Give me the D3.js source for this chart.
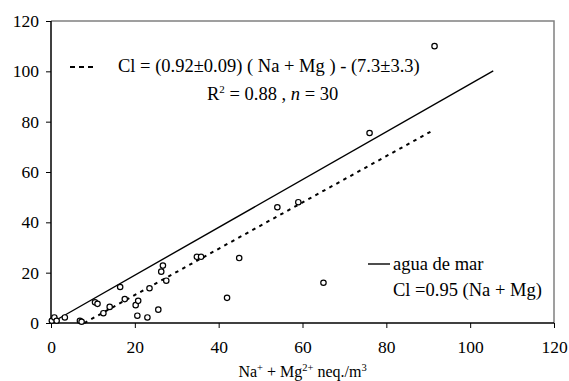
<!DOCTYPE html>
<html><head><meta charset="utf-8">
<script src="https://cdn.jsdelivr.net/npm/d3@7"></script>
<style>
body{margin:0;background:#fff;}
text{font-family:"Liberation Serif","Times New Roman",serif;fill:#000;}
</style></head>
<body><svg id="c" width="569" height="381"></svg>
<script>
// Data (Na+Mg vs Cl, neq/m3)
const naMg = [0.2,0.8,1.35,3.3,6.9,7.3,10.5,11.1,12.5,14.0,16.5,17.6,20.2,20.8,20.6,23.0,23.5,25.6,26.3,26.7,27.5,34.8,35.8,44.9,42.0,65.0,54.0,59.0,76.0,91.5];
const cl   = [0.9,2.2,0.9,2.2,0.9,0.5,8.2,7.6,3.9,6.4,14.3,9.5,7.1,8.8,2.9,2.2,13.8,5.3,20.4,22.8,16.8,26.3,26.3,25.8,10.0,16.0,46.0,48.0,75.5,110.0];
const xTicks = [0,20,40,60,80,100,120];
const yTicks = [0,20,40,60,80,100,120];
// fitted line: Cl = 0.92 (Na+Mg) - 7.3 ; seawater: Cl = 0.95 (Na+Mg)
const fitSlope = 0.92, fitIntercept = -7.3, fitXRange = [7.93, 91.2];
const seaSlope = 0.95, seaXRange = [0, 105.5];

const svg = d3.select("#c");
const x = d3.scaleLinear().domain([0,120]).range([51,554]);
const y = d3.scaleLinear().domain([0,120]).range([323,21]);

// frame (top & right, gray)
svg.append("path").attr("d",`M${x(0)},${y(120)}H${x(120)}V${y(0)}`)
  .attr("fill","none").attr("stroke","#808080").attr("stroke-width",1.5);

// axes
const xAxis = svg.append("g").attr("transform",`translate(0,${y(0)})`)
  .call(d3.axisBottom(x).tickValues(xTicks).tickSize(5).tickPadding(13));
const yAxis = svg.append("g").attr("transform",`translate(${x(0)},0)`)
  .call(d3.axisLeft(y).tickValues(yTicks).tickSize(5).tickPadding(7));
[xAxis,yAxis].forEach(g=>{
  g.attr("font-family",null);
  g.select(".domain").attr("stroke","#000").attr("stroke-width",1.5);
  g.selectAll(".tick line").attr("stroke","#000").attr("stroke-width",1);
  g.selectAll("text").attr("font-size",17.5).attr("fill","#000");
});
xAxis.selectAll(".domain").attr("d",`M${x(0)},0H${x(120)}`);
yAxis.selectAll(".domain").attr("d",`M0,${y(0)}V${y(120)}`);

// lines
const line = d3.line().x(d=>x(d[0])).y(d=>y(d[1]));
svg.append("path").datum(seaXRange.map(v=>[v,seaSlope*v]))
  .attr("d",line).attr("stroke","#000").attr("stroke-width",1.4).attr("fill","none");
svg.append("path").datum(fitXRange.map(v=>[v,fitSlope*v+fitIntercept]))
  .attr("d",line).attr("stroke","#000").attr("stroke-width",2).attr("stroke-dasharray","3.5,4.5").attr("fill","none");

// points
svg.append("g").selectAll("circle").data(naMg.map((v,i)=>[v,cl[i]])).join("circle")
  .attr("cx",d=>x(d[0])).attr("cy",d=>y(d[1])).attr("r",2.7)
  .attr("fill","#fff").attr("stroke","#000").attr("stroke-width",1.2);

// legend 1
svg.append("line").attr("x1",70).attr("x2",96).attr("y1",67).attr("y2",67)
  .attr("stroke","#000").attr("stroke-width",2).attr("stroke-dasharray","5,4");
svg.append("text").attr("x",118).attr("y",72).attr("font-size",18.5)
  .text("Cl = (0.92±0.09) ( Na + Mg ) - (7.3±3.3)");
const t2 = svg.append("text").attr("x",207).attr("y",100).attr("font-size",18.5);
t2.append("tspan").text("R");
t2.append("tspan").attr("dy",-7).attr("font-size",11).text("2");
t2.append("tspan").attr("dy",7).text(" = 0.88 , ");
t2.append("tspan").attr("font-style","italic").text("n");
t2.append("tspan").text(" = 30");

// legend 2
svg.append("line").attr("x1",368).attr("x2",390).attr("y1",264).attr("y2",264)
  .attr("stroke","#000").attr("stroke-width",1.4);
svg.append("text").attr("x",393).attr("y",270).attr("font-size",18.5).text("agua de mar");
svg.append("text").attr("x",393).attr("y",296).attr("font-size",18.5).text("Cl =0.95 (Na + Mg)");

// x axis title
const tt = svg.append("text").attr("x",x(60)).attr("y",377).attr("text-anchor","middle").attr("font-size",16);
tt.append("tspan").text("Na");
tt.append("tspan").attr("dy",-6).attr("font-size",10.5).text("+");
tt.append("tspan").attr("dy",6).text(" + Mg");
tt.append("tspan").attr("dy",-6).attr("font-size",10.5).text("2+");
tt.append("tspan").attr("dy",6).text(" neq./m");
tt.append("tspan").attr("dy",-6).attr("font-size",10.5).text("3");
</script></body></html>
